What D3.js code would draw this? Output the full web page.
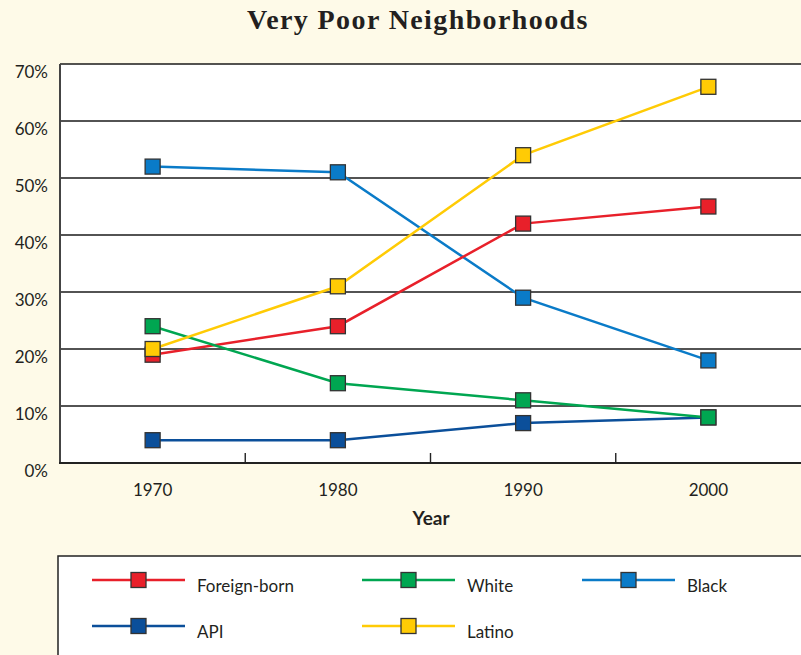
<!DOCTYPE html>
<html><head><meta charset="utf-8">
<script src="https://cdn.jsdelivr.net/npm/d3@7"></script>
<style>
html,body{margin:0;padding:0;background:#fefae8;}
svg{display:block;}
text{font-family:Lato,"Open Sans",sans-serif;fill:#231f20;}
</style></head><body>
<svg id="chart" width="801" height="655"></svg>
<script>
const years = ["1970","1980","1990","2000"];
const yTicks = [0,10,20,30,40,50,60,70];
const foreignBorn = [19,24,42,45];
const white = [24,14,11,8];
const black = [52,51,29,18];
const api = [4,4,7,8];
const latino = [20,31,54,66];
const seriesNames = ["Foreign-born","White","Black","API","Latino"];
const seriesColors = ["#e8202a","#00a651","#0a7bc8","#0b4f9a","#ffcb05"];
const seriesValues = [foreignBorn, white, black, api, latino];
const drawOrder = [3,2,0,1,4];

const svg = d3.select("#chart");
const m = {left:60, right:801, top:64, bottom:463};

const x = d3.scaleBand().domain(years).range([m.left, m.right]);
const y = d3.scaleLinear().domain([0,70]).range([m.bottom, m.top]);

svg.append("rect").attr("x",m.left).attr("y",m.top).attr("width",m.right-m.left+2).attr("height",m.bottom-m.top).attr("fill","#fff");

// gridlines
svg.append("g").selectAll("line").data(yTicks.filter(d=>d>0)).join("line")
  .attr("x1",m.left).attr("x2",m.right+2).attr("y1",d=>y(d)).attr("y2",d=>y(d))
  .attr("stroke","#1a1a1a").attr("stroke-width",1.4);

// y labels
svg.append("g").selectAll("text").data(yTicks).join("text")
  .attr("x",48).attr("y",d=>y(d)+14).attr("text-anchor","end")
  .attr("font-size",17).text(d=>d+"%");

// axes lines
svg.append("line").attr("x1",m.left).attr("x2",m.left).attr("y1",m.top).attr("y2",m.bottom+1)
  .attr("stroke","#444").attr("stroke-width",2);
svg.append("line").attr("x1",m.left-1).attr("x2",m.right+2).attr("y1",m.bottom).attr("y2",m.bottom)
  .attr("stroke","#222").attr("stroke-width",2);

// ticks between bands
const boundaries = years.slice(1).map(d=>x(d));
svg.append("g").selectAll("line").data(boundaries).join("line")
  .attr("x1",d=>d).attr("x2",d=>d).attr("y1",m.bottom-10).attr("y2",m.bottom)
  .attr("stroke","#222").attr("stroke-width",1.4);

// x labels
svg.append("g").selectAll("text").data(years).join("text")
  .attr("x",d=>x(d)+x.bandwidth()/2).attr("y",496).attr("text-anchor","middle")
  .attr("font-size",17).text(d=>d);
svg.append("text").attr("x",431).attr("y",525).attr("text-anchor","middle")
  .attr("font-size",19).attr("font-weight","bold").text("Year");

// title
svg.append("text").attr("x",418).attr("y",29).attr("text-anchor","middle")
  .style("font-family","'Liberation Serif','DejaVu Serif',serif").attr("font-weight","bold")
  .attr("font-size",28).attr("letter-spacing",1.4).text("Very Poor Neighborhoods");

// series
const cx = d=>x(d)+x.bandwidth()/2;
const line = d3.line().x((d,i)=>cx(years[i])).y(d=>y(d));
const ms = 15;
drawOrder.forEach(si=>{
  const g = svg.append("g");
  g.append("path").datum(seriesValues[si]).attr("d",line).attr("fill","none")
    .attr("stroke",seriesColors[si]).attr("stroke-width",2.5);
  g.selectAll("rect").data(seriesValues[si]).join("rect")
    .attr("x",(d,i)=>cx(years[i])-ms/2).attr("y",d=>y(d)-ms/2)
    .attr("width",ms).attr("height",ms)
    .attr("fill",seriesColors[si]).attr("stroke","#333").attr("stroke-width",1.3);
});

// legend
svg.append("rect").attr("x",58).attr("y",556).attr("width",760).attr("height",120)
  .attr("fill","#fff").attr("stroke","#222").attr("stroke-width",1.5);
const legPos = [[92,580],[362,580],[582,580],[92,626],[362,626]];
seriesNames.forEach((n,i)=>{
  const [lx,ly] = legPos[i];
  const g = svg.append("g");
  g.append("line").attr("x1",lx).attr("x2",lx+93).attr("y1",ly).attr("y2",ly)
    .attr("stroke",seriesColors[i]).attr("stroke-width",2.5);
  g.append("rect").attr("x",lx+46.5-ms/2).attr("y",ly-ms/2).attr("width",ms).attr("height",ms)
    .attr("fill",seriesColors[i]).attr("stroke","#333").attr("stroke-width",1.3);
  g.append("text").attr("x",lx+105).attr("y",ly+12).attr("font-size",17).text(n);
});
</script>
</body></html>
